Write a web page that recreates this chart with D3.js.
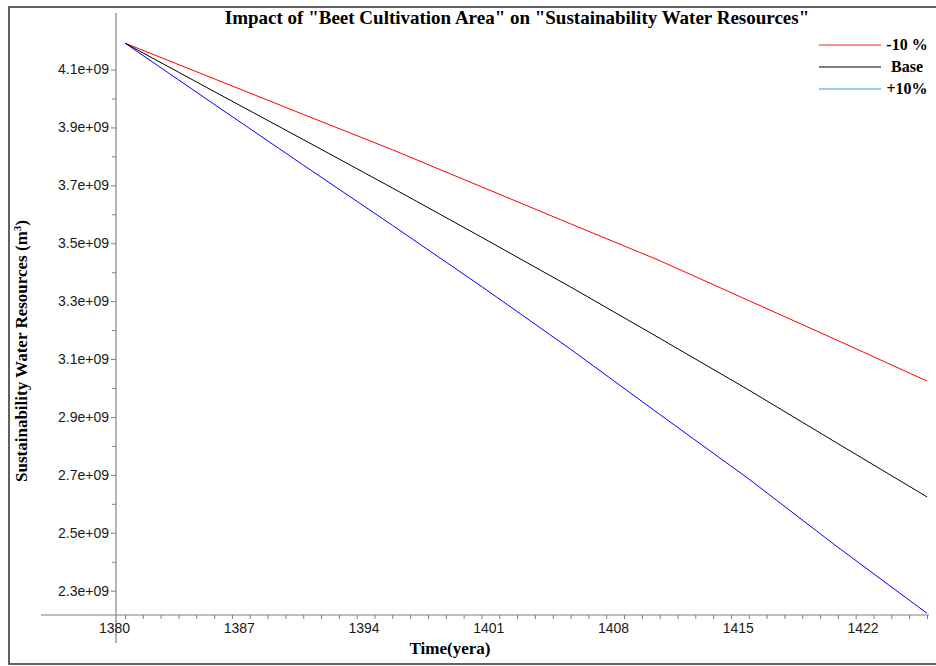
<!DOCTYPE html>
<html>
<head>
<meta charset="utf-8">
<script src="https://cdnjs.cloudflare.com/ajax/libs/d3/7.8.5/d3.min.js"></script>
<style>
    body { margin: 0; background: #ffffff; }
</style>
</head>
<body>
<div id="chart"></div>
<script>
//values (m3), one every 5 years
var years = [1380, 1385, 1390, 1395, 1400, 1405, 1410, 1415, 1420, 1425];
var minus10 = [4.191e9, 4.068e9, 3.945e9, 3.823e9, 3.695e9, 3.567e9, 3.440e9, 3.302e9, 3.164e9, 3.024e9];
var base = [4.191e9, 4.024e9, 3.858e9, 3.691e9, 3.521e9, 3.349e9, 3.172e9, 2.993e9, 2.808e9, 2.624e9];
var plus10 = [4.191e9, 3.980e9, 3.770e9, 3.562e9, 3.351e9, 3.134e9, 2.909e9, 2.686e9, 2.450e9, 2.222e9];

var seriesNames = ["-10 %", "Base", "+10%"];
var seriesColors = ["#ff0000", "#000000", "#0000ff"];
var legendColors = ["#ee2222", "#000000", "#2a9ee6"];

//axis ticks
var yTicks = [2.3e9, 2.5e9, 2.7e9, 2.9e9, 3.1e9, 3.3e9, 3.5e9, 3.7e9, 3.9e9, 4.1e9];
var yMinorTicks = [2.4e9, 2.6e9, 2.8e9, 3.0e9, 3.2e9, 3.4e9, 3.6e9, 3.8e9, 4.0e9];
var xTickLabels = [1380, 1387, 1394, 1401, 1408, 1415, 1422];
var xYearTicks = d3.range(1380, 1426);

(function (window, undefined) {

    var chartPanel = function(selector){
        this.containerId = selector;
        this.width = 936;
        this.height = 666;
        this.axisColor = "#808080";
        this.serif = "'Liberation Serif', 'Times New Roman', serif";
        this.sans = "'Liberation Sans', Arial, sans-serif";

        //scales
        this.x = d3.scaleLinear().domain([1380, 1425]).range([125, 927]);
        this.y = d3.scaleLinear().domain([2.3e9, 4.1e9]).range([590.7, 69.5]);

        this.svg = d3.select(this.containerId).append("svg")
        .attr("width", this.width)
        .attr("height", this.height)
        .style("display", "block");
    }

    chartPanel.prototype.drawFrame = function(){
        //outer border, its right edge runs off the picture
        this.svg.append("rect")
        .attr("x", 9)
        .attr("y", 7)
        .attr("width", 940)
        .attr("height", 657)
        .style("fill", "none")
        .style("stroke", "#3a3a3a")
        .style("stroke-width", 1.6);

        this.svg.append("text")
        .attr("x", 517)
        .attr("y", 24)
        .style("text-anchor", "middle")
        .style("font-family", this.serif)
        .style("font-weight", "bold")
        .style("font-size", "19px")
        .text('Impact of "Beet Cultivation Area" on "Sustainability Water Resources"');
    }

    chartPanel.prototype.drawAxes = function(){
        var thisObject = this;
        var x = this.x, y = this.y;

        //axis lines cross each other like the original
        this.svg.append("line")
        .attr("x1", 116).attr("y1", 13)
        .attr("x2", 116).attr("y2", 643)
        .style("stroke", thisObject.axisColor)
        .style("stroke-width", 1.2);

        this.svg.append("line")
        .attr("x1", 41).attr("y1", 615)
        .attr("x2", 929).attr("y2", 615)
        .style("stroke", thisObject.axisColor)
        .style("stroke-width", 1.2);

        //y axis, major ticks with labels
        var yAxis = this.svg.append("g")
        .attr("transform", "translate(116,0)")
        .call(d3.axisLeft(y).tickValues(yTicks).tickSize(5).tickPadding(2)
            .tickFormat(function(d){ return (d / 1e9).toFixed(1) + "e+09"; }));
        yAxis.select(".domain").remove();
        yAxis.selectAll(".tick line").style("stroke", thisObject.axisColor);
        yAxis.selectAll(".tick text")
        .style("font-family", thisObject.sans)
        .style("font-size", "14px")
        .style("fill", "#1a1a1a");

        //y axis minor ticks
        var yMinor = this.svg.append("g")
        .attr("transform", "translate(116,0)")
        .call(d3.axisLeft(y).tickValues(yMinorTicks).tickSize(4).tickFormat(""));
        yMinor.select(".domain").remove();
        yMinor.selectAll(".tick line").style("stroke", thisObject.axisColor);

        //x axis, one tick per year
        var xMinor = this.svg.append("g")
        .attr("transform", "translate(0,615)")
        .call(d3.axisBottom(x).tickValues(xYearTicks).tickSize(4).tickFormat(""));
        xMinor.select(".domain").remove();
        xMinor.selectAll(".tick line").style("stroke", thisObject.axisColor);

        //x labels sit a bit left of their ticks in the original
        this.svg.append("g")
        .selectAll("text")
        .data(xTickLabels)
        .enter().append("text")
        .attr("x", function(d){ return x(d) - 10.5; })
        .attr("y", 633)
        .style("text-anchor", "middle")
        .style("font-family", thisObject.sans)
        .style("font-size", "14px")
        .style("fill", "#1a1a1a")
        .text(function(d){ return d; });

        //axis titles
        this.svg.append("text")
        .attr("x", 450)
        .attr("y", 654)
        .style("text-anchor", "middle")
        .style("font-family", thisObject.serif)
        .style("font-weight", "bold")
        .style("font-size", "17px")
        .text("Time(yera)");

        var yTitle = this.svg.append("text")
        .attr("transform", "translate(27,351) rotate(-90)")
        .style("text-anchor", "middle")
        .style("font-family", thisObject.serif)
        .style("font-weight", "bold")
        .style("font-size", "17px");
        yTitle.append("tspan").text("Sustainability Water Resources (m");
        yTitle.append("tspan").attr("dy", -6).style("font-size", "11px").text("3");
        yTitle.append("tspan").attr("dy", 6).text(")");
    }

    chartPanel.prototype.drawLines = function(){
        var x = this.x, y = this.y;
        var allSeries = [minus10, base, plus10];

        var lineGen = d3.line()
        .x(function(d, i){ return x(years[i]); })
        .y(function(d){ return y(d); });

        this.svg.append("g")
        .selectAll("path")
        .data(allSeries)
        .enter().append("path")
        .attr("d", lineGen)
        .style("fill", "none")
        .style("stroke", function(d, i){ return seriesColors[i]; })
        .style("stroke-width", 1);
    }

    chartPanel.prototype.drawLegend = function(){
        var thisObject = this;
        var legend = this.svg.append("g")
        .selectAll("g")
        .data(seriesNames)
        .enter().append("g")
        .attr("transform", function(d, i){ return "translate(0," + (45 + i * 22) + ")"; });

        legend.append("line")
        .attr("x1", 819).attr("y1", 0)
        .attr("x2", 881).attr("y2", 0)
        .style("stroke", function(d, i){ return legendColors[i]; })
        .style("stroke-width", 1);

        legend.append("text")
        .attr("x", 907)
        .attr("y", 5)
        .style("text-anchor", "middle")
        .style("font-family", thisObject.serif)
        .style("font-weight", "bold")
        .style("font-size", "16px")
        .text(function(d){ return d; });
    }

    var panel = new chartPanel("#chart");
    panel.drawFrame();
    panel.drawAxes();
    panel.drawLines();
    panel.drawLegend();

})(window)
</script>
</body>
</html>
